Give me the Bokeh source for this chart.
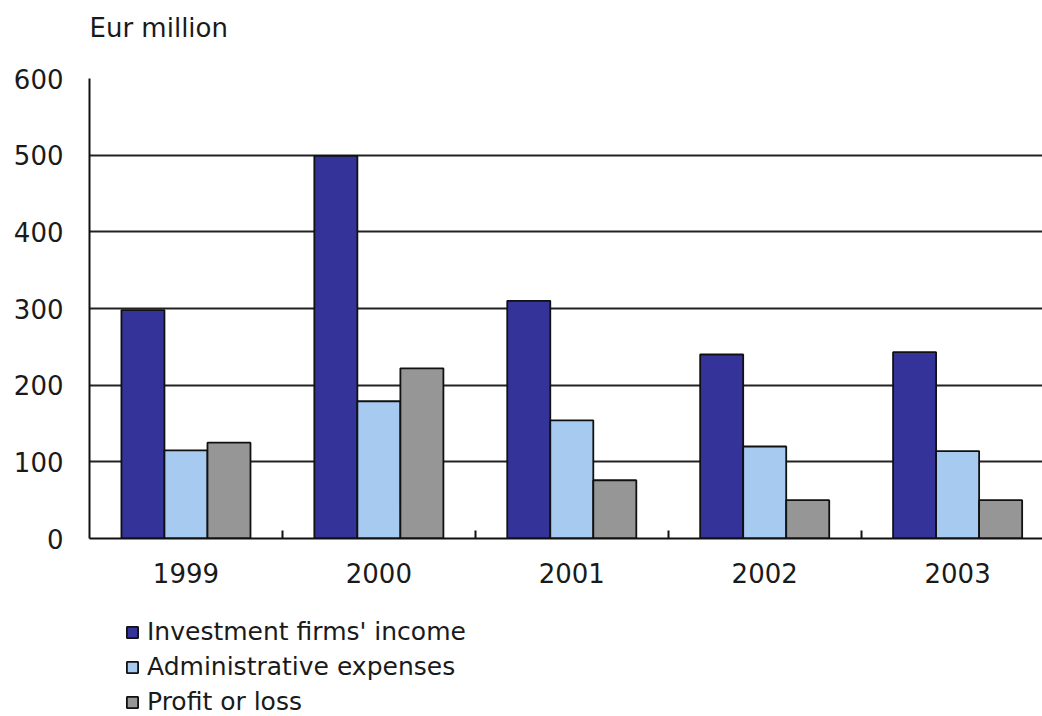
from bokeh.plotting import figure
from bokeh.layouts import column
from bokeh.models import ColumnDataSource, Range1d, FixedTicker, Legend, LegendItem, Label
from bokeh.transform import dodge
from bokeh.embed import file_html
from bokeh.resources import INLINE

years = ["1999", "2000", "2001", "2002", "2003"]
income = [298, 499, 310, 240, 243]
admin = [115, 179, 154, 120, 114]
profit = [125, 222, 76, 50, 50]
series_names = ["Investment firms' income", "Administrative expenses", "Profit or loss"]
colors = ["#333399", "#A6CAF0", "#969696"]
unit_label = "Eur million"

pos = [i + 0.5 for i in range(len(years))]
src = ColumnDataSource(dict(x=pos, income=income, admin=admin, profit=profit))

FONT = "DejaVu Sans"
TXT = "#1a1a1a"

# --- top strip with the unit label ---
t = figure(width=1042, height=60, output_backend="svg", toolbar_location=None,
           x_range=Range1d(0, 1), y_range=Range1d(0, 1),
           min_border_left=0, min_border_right=0, min_border_top=0, min_border_bottom=0)
t.axis.visible = False
t.grid.visible = False
t.outline_line_color = None
t.add_layout(Label(x=0, y=0.55, text=unit_label, text_font=FONT, text_font_size="26px",
                   text_color=TXT, text_baseline="middle", text_align="left"))

# --- main chart ---
p = figure(width=1042, height=540, output_backend="svg", toolbar_location=None,
           x_range=Range1d(0, 4.94), y_range=Range1d(0, 600),
           min_border_left=89, min_border_right=0, min_border_top=18, min_border_bottom=62)
p.outline_line_color = None
p.background_fill_color = "white"

bw = 0.223
renderers = []
for col, off, c in zip(["income", "admin", "profit"], [-bw, 0, bw], colors):
    r = p.vbar(x=dodge("x", off), top=col, width=bw, bottom=0, source=src,
               fill_color=c, line_color="#111111", line_width=1.8)
    renderers.append(r)

xa = p.xaxis[0]
xa.ticker = FixedTicker(ticks=pos, minor_ticks=[1, 2, 3, 4])
xa.major_label_overrides = {pv: y for pv, y in zip(pos, years)}
xa.major_tick_in = 0
xa.major_tick_out = 0
xa.minor_tick_in = 8
xa.minor_tick_out = 0
xa.minor_tick_line_color = "#111111"
xa.minor_tick_line_width = 2
xa.axis_line_color = "#111111"
xa.axis_line_width = 2
xa.major_label_text_font = FONT
xa.major_label_text_font_size = "26px"
xa.major_label_text_color = TXT
xa.major_label_standoff = 24

ya = p.yaxis[0]
ya.ticker = FixedTicker(ticks=[0, 100, 200, 300, 400, 500, 600])
ya.major_tick_in = 0
ya.major_tick_out = 0
ya.minor_tick_line_color = None
ya.axis_line_color = "#111111"
ya.axis_line_width = 2
ya.major_label_text_font = FONT
ya.major_label_text_font_size = "26px"
ya.major_label_text_color = TXT
ya.major_label_standoff = 26

p.xgrid.grid_line_color = None
p.ygrid.grid_line_color = "#222222"
p.ygrid.grid_line_width = 2

# --- legend strip below the chart ---
q = figure(width=1042, height=116, output_backend="svg", toolbar_location=None,
           x_range=Range1d(0, 1), y_range=Range1d(0, 1),
           min_border_left=0, min_border_right=0, min_border_top=0, min_border_bottom=0)
q.axis.visible = False
q.grid.visible = False
q.outline_line_color = None
leg_r = []
for col, c in zip(["income", "admin", "profit"], colors):
    leg_r.append(q.vbar(x="x", top=col, width=0.1, source=src, visible=False,
                        fill_color=c, line_color="#111111", line_width=1.8))

legend = Legend(items=[LegendItem(label=n, renderers=[r]) for n, r in zip(series_names, leg_r)],
                location=(36, -3), orientation="vertical")
legend.label_text_font = FONT
legend.label_text_font_size = "25px"
legend.label_text_color = TXT
legend.glyph_width = 14
legend.glyph_height = 14
legend.label_height = 35
legend.label_standoff = 8
legend.spacing = 0
legend.padding = 0
legend.margin = 0
legend.border_line_color = None
legend.background_fill_alpha = 0
q.add_layout(legend, "center")

layout = column(t, p, q, spacing=0)
open("out.html", "w").write(file_html(layout, INLINE))
